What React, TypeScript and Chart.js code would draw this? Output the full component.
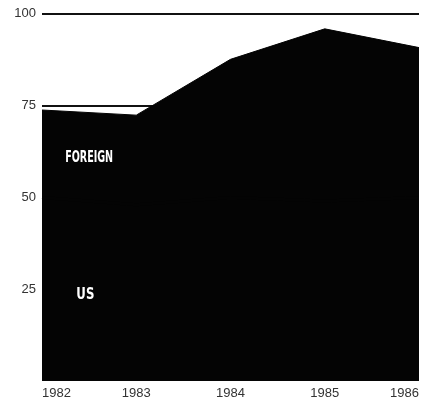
import React, { useEffect, useRef } from "react";
import { Chart, registerables } from "chart.js";

Chart.register(...registerables);

const years = ["1982", "1983", "1984", "1985", "1986"];
const totalValues = [73.8, 72.4, 87.6, 95.9, 90.8];
const usValues = [50, 48, 50, 49, 50];
const foreignValues = totalValues.map((t, i) => +(t - usValues[i]).toFixed(1));
const yTicks = [25, 50, 75, 100];

const areaLabels = [
  { text: "FOREIGN", xIndex: 0.5, yValue: 60.8, width: 48, size: 16 },
  { text: "US", xIndex: 0.46, yValue: 23.5, width: 18, size: 15 },
];

const labelPlugin = {
  id: "areaLabels",
  afterDatasetsDraw(chart: any) {
    const { ctx, scales } = chart;
    const xs = scales.x;
    const ys = scales.y;
    ctx.save();
    ctx.fillStyle = "#ffffff";
    ctx.textAlign = "center";
    ctx.textBaseline = "middle";
    for (const l of areaLabels) {
      const x0 = xs.getPixelForValue(0);
      const x1 = xs.getPixelForValue(1);
      const px = x0 + (x1 - x0) * l.xIndex;
      const py = ys.getPixelForValue(l.yValue);
      ctx.font = `bold ${l.size}px "DejaVu Sans Condensed", "DejaVu Sans", sans-serif`;
      ctx.fillText(l.text, px, py, l.width);
    }
    ctx.restore();
  },
};

export default function App() {
  const ref = useRef<HTMLCanvasElement | null>(null);
  useEffect(() => {
    document.body.style.margin = "0";
    const canvas = ref.current;
    if (!canvas) return;
    const chart = new Chart(canvas, {
      type: "line",
      data: {
        labels: years,
        datasets: [
          {
            label: "US",
            data: usValues,
            fill: "origin",
            backgroundColor: "#040404",
            borderColor: "#040404",
            borderWidth: 3,
            pointRadius: 0,
            tension: 0,
          },
          {
            label: "FOREIGN",
            data: foreignValues,
            fill: "-1",
            backgroundColor: "#040404",
            borderColor: "#040404",
            borderWidth: 1,
            pointRadius: 0,
            tension: 0,
          },
        ],
      },
      options: {
        animation: false,
        responsive: false,
        maintainAspectRatio: false,
        layout: { padding: { top: 12, right: 3, left: 0, bottom: 0 } },
        plugins: { legend: { display: false }, tooltip: { enabled: false } },
        scales: {
          x: {
            offset: false,
            grid: { display: false, drawTicks: false },
            border: { display: false },
            ticks: {
              align: "inner",
              padding: 5,
              color: "#333333",
              font: { family: '"Liberation Sans", Arial, sans-serif', size: 13 },
              maxRotation: 0,
            },
            afterFit: (s: any) => {
              s.height = 26;
            },
          },
          y: {
            stacked: true,
            min: 0,
            max: 100,
            afterBuildTicks: (s: any) => {
              s.ticks = yTicks.map((v) => ({ value: v }));
            },
            grid: {
              drawTicks: false,
              color: "#111111",
              lineWidth: 2,
            },
            border: { display: false },
            ticks: {
              padding: 6,
              color: "#333333",
              font: { family: '"Liberation Sans", Arial, sans-serif', size: 13 },
            },
            afterFit: (s: any) => {
              s.width = 42;
            },
          },
        },
      },
      plugins: [labelPlugin],
    } as any);
    return () => chart.destroy();
  }, []);
  return (
    <div style={{ position: "fixed", left: 0, top: 0, width: 424, height: 407, background: "#fff" }}>
      <canvas ref={ref} width={424} height={407} style={{ width: 424, height: 407 }} />
    </div>
  );
}
